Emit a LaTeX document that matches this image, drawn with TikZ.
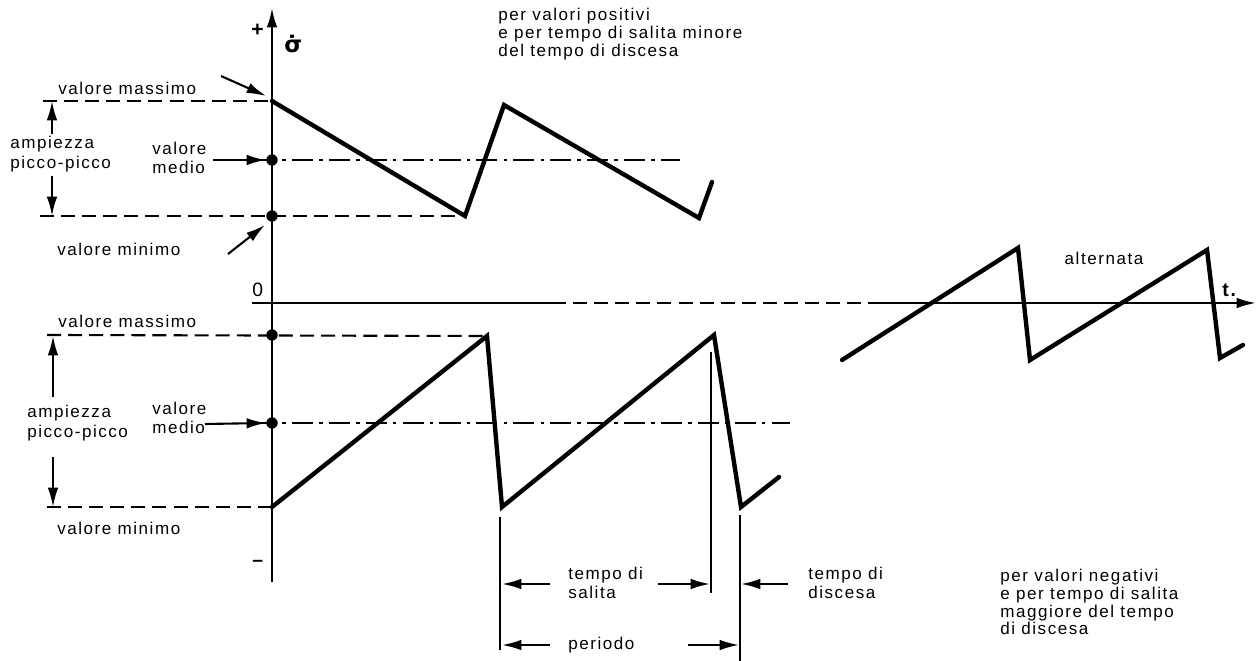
\documentclass[tikz,border=0pt]{standalone}
\usepackage{fontspec}
\setmainfont{Liberation Sans}[LetterSpace=9]
\newfontfamily\symfont{DejaVu Sans}
\usetikzlibrary{arrows.meta}
\begin{document}
\begin{tikzpicture}[x=0.02cm,y=-0.02cm,
  lbl/.style={font=\fontsize{9.7}{11.2}\selectfont, inner sep=0pt, align=left, anchor=west},
  tight/.style={font=\fontsize{9.7}{10.2}\selectfont},
  wave/.style={line width=2.5pt, line join=miter, line cap=round},
  axisline/.style={line width=1.3pt},
  dashln/.style={line width=1.2pt, dash pattern=on 8pt off 4pt},
  dashdot/.style={line width=1.2pt, dash pattern=on 12pt off 3.5pt on 2pt off 3.5pt},
  thinln/.style={line width=0.9pt},
  arr/.style={line width=1.2pt, -{Latex[length=11pt,width=6pt]}},
  dotnode/.style={circle, fill=black, inner sep=0pt, minimum size=6.5pt}]
\useasboundingbox (0,0) rectangle (1256,661);
% axes
\coordinate (ay0) at (272,582);
\coordinate (ay1) at (272,8);
\draw[axisline,-{Latex[length=11pt,width=6pt]}] (ay0) -- (ay1);
\coordinate (ax0) at (252,303);
\coordinate (ax1) at (552,303);
\coordinate (ax2) at (870,303);
\coordinate (ax3) at (1256,303);
\draw[axisline] (ax0) -- (ax1);
\draw[dashln] (ax1) -- (ax2);
\draw[axisline,-{Latex[length=11pt,width=6pt]}] (ax2) -- (ax3);
\node[lbl,font=\fontsize{12}{12}\selectfont\bfseries] (plus) at (251,30) {+};
\node[lbl] (sig) at (284,44) {\symfont\fontsize{13}{13}\selectfont\bfseries σ̇};
\node[lbl,font=\fontsize{11}{11}\selectfont] (zero) at (252,290) {0};
\node[lbl,font=\fontsize{11}{11}\selectfont\bfseries] (tl) at (1222,290) {t.};
\node[lbl,font=\fontsize{11}{11}\selectfont\bfseries] (minus) at (252,563) {–};
% upper wave
\coordinate (u0) at (272,101);
\coordinate (u1) at (465,216);
\coordinate (u2) at (504,105);
\coordinate (u3) at (699,218);
\coordinate (u4) at (712,182);
\draw[wave] (u0) -- (u1) -- (u2) -- (u3) -- (u4);
\coordinate (umax0) at (43,101);
\coordinate (umid0) at (255,160);
\coordinate (umid1) at (680,160);
\coordinate (umin0) at (40,216);
\draw[dashln] (umax0) -- (u0);
\draw[dashdot] (umid0) -- (umid1);
\draw[dashln] (umin0) -- (u1);
\node[dotnode] (ud1) at (272,160) {};
\node[dotnode] (ud2) at (272,216) {};
\coordinate (ua1) at (52,134);
\coordinate (ua1t) at (52,101);
\coordinate (ua2) at (52,176);
\coordinate (ua2t) at (52,216);
\draw[arr] (ua1) -- (ua1t);
\draw[arr] (ua2) -- (ua2t);
\node[lbl] (uamp) at (10,154) {ampiezza\\picco-picco};
\node[lbl] (umed) at (152,158) {valore\\medio};
\coordinate (umeda) at (213,160);
\draw[arr] (umeda) -- (ud1.west);
\node[lbl] (umaxl) at (58,88) {valore massimo};
\coordinate (umaxa) at (221,76);
\coordinate (umaxt) at (266,96);
\draw[arr] (umaxa) -- (umaxt);
\node[lbl] (uminl) at (57,249) {valore minimo};
\coordinate (umina) at (228,254);
\coordinate (umint) at (265,225);
\draw[arr] (umina) -- (umint);
\node[lbl,tight] (utext) at (498,34) {per valori positivi\\e per tempo di salita minore\\del tempo di discesa};
% lower wave
\coordinate (l0) at (272,507);
\coordinate (l1) at (487,336);
\coordinate (l2) at (502,507);
\coordinate (l3) at (714,335);
\coordinate (l4) at (741,507);
\coordinate (l5) at (779,477);
\draw[wave] (l0) -- (l1) -- (l2) -- (l3) -- (l4) -- (l5);
\coordinate (lmax0) at (47,335);
\coordinate (lmid0) at (255,423);
\coordinate (lmid1) at (790,423);
\coordinate (lmin0) at (47,507);
\draw[dashln] (lmax0) -- (l1);
\draw[dashdot] (lmid0) -- (lmid1);
\draw[dashln] (lmin0) -- (l0);
\node[dotnode] (ld0) at (272,335) {};
\node[dotnode] (ld1) at (272,423) {};
\coordinate (la1) at (53,397);
\coordinate (la1t) at (53,336);
\coordinate (la2) at (53,457);
\coordinate (la2t) at (53,507);
\draw[arr] (la1) -- (la1t);
\draw[arr] (la2) -- (la2t);
\node[lbl] (lmaxl) at (58,321) {valore massimo};
\node[lbl] (lamp) at (27,423) {ampiezza\\picco-picco};
\node[lbl] (lmed) at (152,418) {valore\\medio};
\coordinate (lmeda) at (205,424);
\draw[arr] (lmeda) -- (ld1.west);
\node[lbl] (lminl) at (57,528) {valore minimo};
% time marks
\coordinate (v1a) at (500,517);
\coordinate (v1b) at (500,650);
\coordinate (v2a) at (711,352);
\coordinate (v2b) at (711,593);
\coordinate (v3a) at (740,515);
\coordinate (v3b) at (740,661);
\draw[thinln] (v1a) -- (v1b);
\draw[thinln] (v2a) -- (v2b);
\draw[thinln] (v3a) -- (v3b);
\coordinate (s1) at (550,584);
\coordinate (s1t) at (502,584);
\coordinate (s2) at (658,584);
\coordinate (s2t) at (710,584);
\coordinate (d1) at (788,584);
\coordinate (d1t) at (741,584);
\coordinate (p1) at (550,645);
\coordinate (p1t) at (502,645);
\coordinate (p2) at (688,645);
\coordinate (p2t) at (739,645);
\draw[arr] (s1) -- (s1t);
\draw[arr] (s2) -- (s2t);
\draw[arr] (d1) -- (d1t);
\draw[arr] (p1) -- (p1t);
\draw[arr] (p2) -- (p2t);
\node[lbl] (salita) at (568,583) {tempo di\\salita};
\node[lbl] (periodo) at (568,645) {periodo};
\node[lbl] (discesa) at (808,583) {tempo di\\discesa};
\node[lbl,tight] (ltext) at (1000,602) {per valori negativi\\e per tempo di salita\\maggiore del tempo\\di discesa};
% alternating wave
\coordinate (r0) at (842,360);
\coordinate (r1) at (1018,248);
\coordinate (r2) at (1030,360);
\coordinate (r3) at (1207,250);
\coordinate (r4) at (1220,358);
\coordinate (r5) at (1243,345);
\draw[wave] (r0) -- (r1) -- (r2) -- (r3) -- (r4) -- (r5);
\node[lbl,anchor=center] (alt) at (1104,258) {alternata};
\end{tikzpicture}
\end{document}
